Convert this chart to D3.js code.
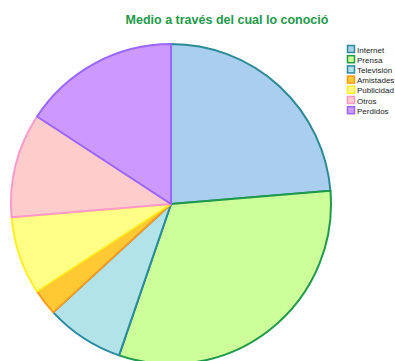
<!DOCTYPE html>
<html>
<head>
<meta charset="utf-8">
<script src="https://cdn.jsdelivr.net/npm/d3@7"></script>
<style>
  html, body { margin: 0; padding: 0; background: #fff; }
  svg { display: block; }
</style>
</head>
<body>
<svg id="chart" width="395" height="361"></svg>
<script>
// Respuestas por medio
const categories = ["Internet", "Prensa", "Televisión", "Amistades", "Publicidad", "Otros", "Perdidos"];
const values = [9, 12, 3, 1, 3, 4, 6];
const fills = ["#aacfee", "#ccff99", "#b2e3e8", "#ffc933", "#ffff88", "#ffcccc", "#cc99ff"];
const strokes = ["#2a8a96", "#1f9a4a", "#2a8aa0", "#ff9a1a", "#ffee22", "#ff99cc", "#9966ff"];
const title = "Medio a través del cual lo conoció";

const svg = d3.select("#chart");
const cx = 171, cy = 204, r = 160;

svg.append("text")
  .attr("x", 227).attr("y", 24)
  .attr("text-anchor", "middle")
  .attr("font-family", "Liberation Sans, Arial, sans-serif")
  .attr("font-size", "12.5px")
  .attr("font-weight", "bold")
  .attr("fill", "#22994a")
  .text(title);

const pie = d3.pie().sort(null).value(d => d)(values);
const arc = d3.arc().innerRadius(0).outerRadius(r);

const g = svg.append("g").attr("transform", `translate(${cx},${cy})`);
g.selectAll("path")
  .data(pie)
  .join("path")
  .attr("d", arc)
  .attr("fill", (d, i) => fills[i])
  .attr("stroke", (d, i) => strokes[i])
  .attr("stroke-width", 2)
  .attr("stroke-linejoin", "round");

// Leyenda
const leg = svg.append("g").attr("transform", "translate(347,45)");
const item = leg.selectAll("g")
  .data(categories)
  .join("g")
  .attr("transform", (d, i) => `translate(0,${i * 10.2})`);
item.append("rect")
  .attr("x", 0.5).attr("y", 0.5)
  .attr("width", 7).attr("height", 7)
  .attr("fill", (d, i) => fills[i])
  .attr("stroke", (d, i) => strokes[i])
  .attr("stroke-width", 1.5);
item.append("text")
  .attr("x", 10).attr("y", 7.5)
  .attr("font-family", "Liberation Sans, Arial, sans-serif")
  .attr("font-size", "8px")
  .attr("fill", "#222")
  .text(d => d);
</script>
</body>
</html>
